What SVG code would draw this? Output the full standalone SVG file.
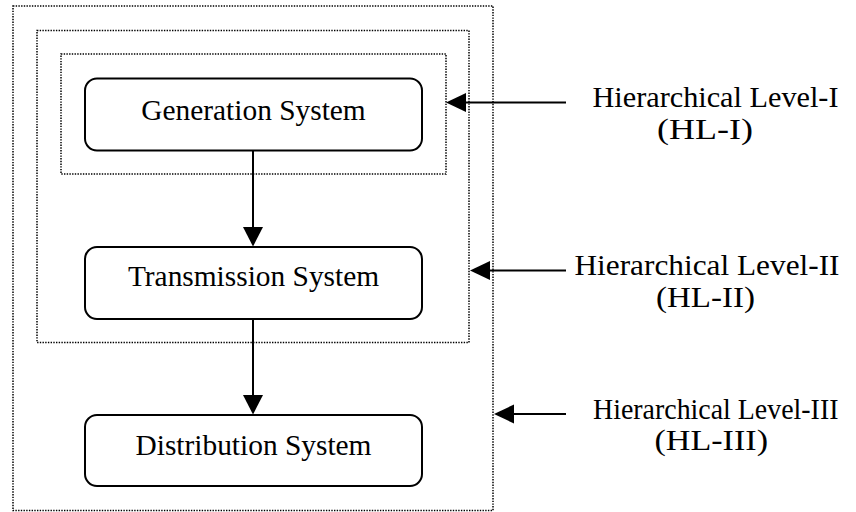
<svg xmlns="http://www.w3.org/2000/svg" width="856" height="512" viewBox="0 0 856 512">
  <style>
    .level { fill: none; stroke: #000; stroke-width: 1.5; stroke-dasharray: 1.4 1.3; }
    .box { fill: #fff; stroke: #000; stroke-width: 2; }
    .wire { stroke: #000; stroke-width: 2; fill: none; }
    .head { fill: #000; stroke: none; }
    text { font-family: "Liberation Serif", "Times New Roman", serif; fill: #000; }
    .label { font-size: 29.4px; text-anchor: middle; }
    .hl { font-size: 29.5px; }
  </style>

  <!-- nested hierarchical level boundaries -->
  <g id="levels">
    <rect id="hl3-boundary" class="level" x="13" y="6" width="480" height="504.5"/>
    <rect id="hl2-boundary" class="level" x="37" y="30.5" width="432" height="312"/>
    <rect id="hl1-boundary" class="level" x="61" y="54" width="385" height="120"/>
  </g>

  <g id="generation">
    <rect class="box" x="85" y="78.5" width="337" height="72" rx="12"/>
    <text class="label" x="253.5" y="120">Generation System</text>
  </g>

  <g id="transmission">
    <rect class="box" x="85" y="247" width="337" height="72" rx="12"/>
    <text class="label" x="253.5" y="286">Transmission System</text>
  </g>

  <g id="distribution">
    <rect class="box" x="85" y="415" width="337" height="71" rx="12"/>
    <text class="label" x="253.5" y="455">Distribution System</text>
  </g>

  <g id="connectors">
    <!-- flow between systems -->
    <line class="wire" x1="253" y1="151" x2="253" y2="230"/>
    <polygon class="head" points="243,227 263,227 253,246.5"/>
    <line class="wire" x1="253" y1="319" x2="253" y2="398"/>
    <polygon class="head" points="243,395 263,395 253,414.5"/>

    <!-- level pointers -->
    <line class="wire" x1="566" y1="102.5" x2="462" y2="102.5"/>
    <polygon class="head" points="446,102.5 466,93 466,112"/>
    <line class="wire" x1="566" y1="270.5" x2="486" y2="270.5"/>
    <polygon class="head" points="470,270.5 490,261 490,280"/>
    <line class="wire" x1="566" y1="414" x2="510" y2="414"/>
    <polygon class="head" points="494,414 514,404.5 514,423.5"/>
  </g>

  <g id="hl1-label">
    <text class="hl" x="592.5" y="106.5" textLength="246" lengthAdjust="spacingAndGlyphs">Hierarchical Level-I</text>
    <text class="hl" x="657" y="139" textLength="96" lengthAdjust="spacingAndGlyphs">(HL-I)</text>
  </g>

  <g id="hl2-label">
    <text class="hl" x="574.5" y="275" textLength="265" lengthAdjust="spacingAndGlyphs">Hierarchical Level-II</text>
    <text class="hl" x="656" y="307" textLength="99" lengthAdjust="spacingAndGlyphs">(HL-II)</text>
  </g>

  <g id="hl3-label">
    <text class="hl" x="593" y="418.5" textLength="245.5" lengthAdjust="spacingAndGlyphs">Hierarchical Level-III</text>
    <text class="hl" x="654.5" y="450" textLength="113.5" lengthAdjust="spacingAndGlyphs">(HL-III)</text>
  </g>
</svg>
